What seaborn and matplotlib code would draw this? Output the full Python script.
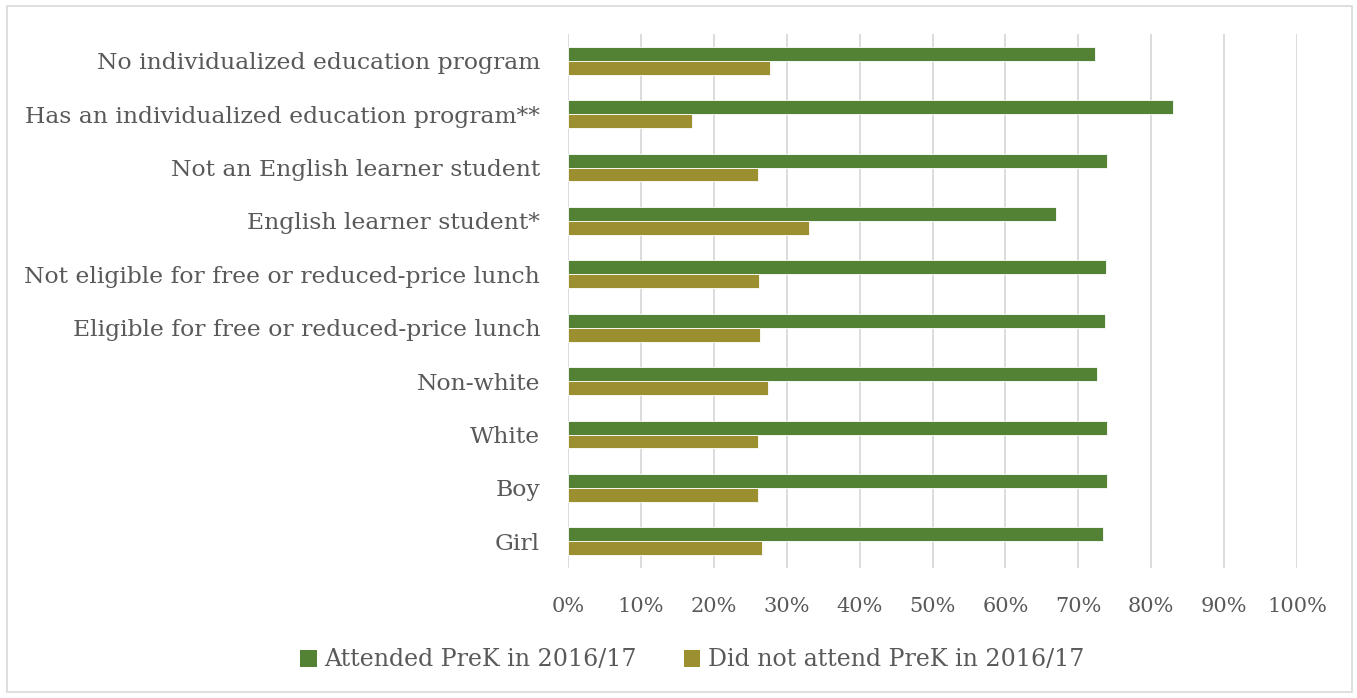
import matplotlib
matplotlib.use("Agg")
import matplotlib.pyplot as plt
import matplotlib.patches as mpatches
import seaborn as sns
import pandas as pd

# Subgroups, top to bottom
groups = [
    "No individualized education program",
    "Has an individualized education program**",
    "Not an English learner student",
    "English learner student*",
    "Not eligible for free or reduced-price lunch",
    "Eligible for free or reduced-price lunch",
    "Non-white",
    "White",
    "Boy",
    "Girl",
]
attended = [72.3, 83.0, 74.0, 66.9, 73.8, 73.7, 72.6, 73.9, 74.0, 73.4]
not_attended = [27.7, 17.0, 26.0, 33.1, 26.2, 26.3, 27.4, 26.1, 26.0, 26.6]
series_names = ["Attended PreK in 2016/17", "Did not attend PreK in 2016/17"]
x_ticks = list(range(0, 101, 10))
x_tick_labels = [f"{t}%" for t in x_ticks]

colors = ["#548235", "#9C8F30"]
text_color = "#595959"
grid_color = "#D9D9D9"

df = pd.DataFrame({
    "group": groups * 2,
    "share": attended + not_attended,
    "series": [series_names[0]] * len(groups) + [series_names[1]] * len(groups),
})

sns.set_theme(style="white")
plt.rcParams["font.family"] = ["DejaVu Serif"]
fs_cat = 16.9
fs_tick = 15.0
fs_leg = 17.1

W, H = 1357, 698
fig = plt.figure(figsize=(W / 100, H / 100), dpi=100)
ax = fig.add_axes([568 / W, 1 - 568 / H, (1297 - 568) / W, (568 - 34) / H])

sns.barplot(
    data=df, y="group", x="share", hue="series", order=groups,
    hue_order=series_names, palette=colors, saturation=1, orient="h",
    width=0.52, edgecolor="white", linewidth=0.6, legend=False, ax=ax,
    zorder=3,
)

ax.set_xlim(0, 100)
ax.set_ylim(len(groups) - 0.5, -0.5)
ax.set_xticks(x_ticks)
ax.set_xticklabels(x_tick_labels)
ax.xaxis.grid(True, color=grid_color, linewidth=1.3, zorder=0)
ax.yaxis.grid(False)
for s in ax.spines.values():
    s.set_visible(False)
ax.set_xlabel("")
ax.set_ylabel("")
ax.tick_params(axis="x", length=0, pad=21, labelsize=fs_tick, labelcolor=text_color)
ax.tick_params(axis="y", length=0, pad=20, labelsize=fs_cat, labelcolor=text_color)

handles = [mpatches.Patch(facecolor=c, edgecolor="none") for c in colors]
fig.legend(
    handles, series_names, loc="center", bbox_to_anchor=(692 / W, 1 - 660 / H),
    ncol=2, frameon=False, fontsize=fs_leg, labelcolor=text_color,
    handlelength=0.7, handleheight=0.7, handletextpad=0.3, columnspacing=2.0,
)

# Light outer frame around the chart
fig.add_artist(mpatches.Rectangle(
    (7 / W, 6 / H), (1352 - 7) / W, (692 - 6) / H, transform=fig.transFigure,
    facecolor="none", edgecolor=grid_color, linewidth=1.2,
))

fig.savefig("out.png", dpi=100)
